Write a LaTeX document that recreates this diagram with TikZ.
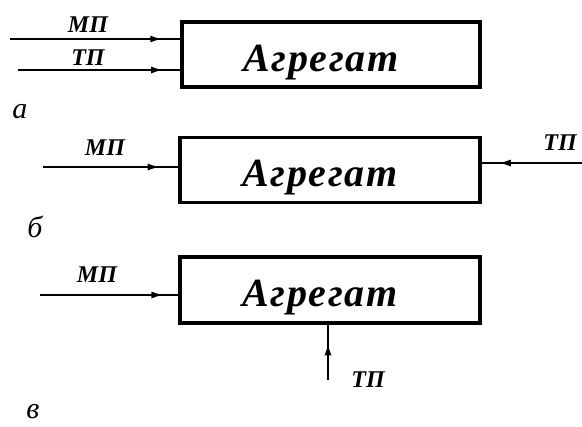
\documentclass[tikz,border=0pt]{standalone}
\usepackage{fontspec}
\setmainfont{Liberation Serif}
\usetikzlibrary{arrows.meta,decorations.markings}
\newcommand{\agg}{\raisebox{-17pt}[0pt][0pt]{\hspace*{-20pt}Агрегат}}
\tikzset{
  box/.style={draw, line width=3.4pt, minimum width=300pt, minimum height=65pt, inner sep=0pt,
              font=\fontsize{40}{44}\selectfont\itshape\bfseries\addfontfeature{LetterSpace=4}},
  flow/.style={line width=2.4pt},
  tipat/.style={postaction={decorate}, decoration={markings,
      mark=at position #1 with {\arrow{Latex[length=13pt,width=7pt]}}}},
  lbl/.style={font=\fontsize{24}{26}\selectfont\itshape\bfseries, inner sep=0pt},
  letter/.style={font=\fontsize{30}{32}\selectfont\itshape, inner sep=0pt}
}
\begin{document}
\begin{tikzpicture}[x=1pt,y=-1pt]
\useasboundingbox (0,0) rectangle (582,427);
% a
\node[box, minimum width=298pt] (A) at (331,54.5) {\agg};
\coordinate (a1) at (10,39);
\coordinate (a2) at (18,70);
\draw[flow, tipat=0.9] (a1) -- (a1 -| A.west);
\draw[flow, tipat=0.9] (a2) -- (a2 -| A.west);
\node[lbl] (amp) at (88,25) {МП};
\node[lbl] (atp) at (88,58) {ТП};
\node[letter] (la) at (20,112) {а};
% b
\node[box] (B) at (330,170) {\agg};
\coordinate (b1) at (43,167);
\coordinate (b2) at (582,163);
\draw[flow, tipat=0.87] (b1) -- (b1 -| B.west);
\draw[flow, tipat=0.84] (b2) -- (b2 -| B.east);
\node[lbl] (bmp) at (105,148) {МП};
\node[lbl] (btp) at (560,143) {ТП};
\node[letter] (lb) at (35,227) {б};
% c
\node[box, minimum height=66pt] (C) at (330,290) {\agg};
\coordinate (c1) at (40,295);
\coordinate (c2) at (328,380);
\draw[flow, tipat=0.9] (c1) -- (c1 -| C.west);
\draw[flow, tipat=0.68] (c2) -- (c2 |- C.south);
\node[lbl] (cmp) at (97,275) {МП};
\node[lbl] (ctp) at (368,380) {ТП};
\node[letter] (lc) at (33,412) {в};
\end{tikzpicture}
\end{document}
